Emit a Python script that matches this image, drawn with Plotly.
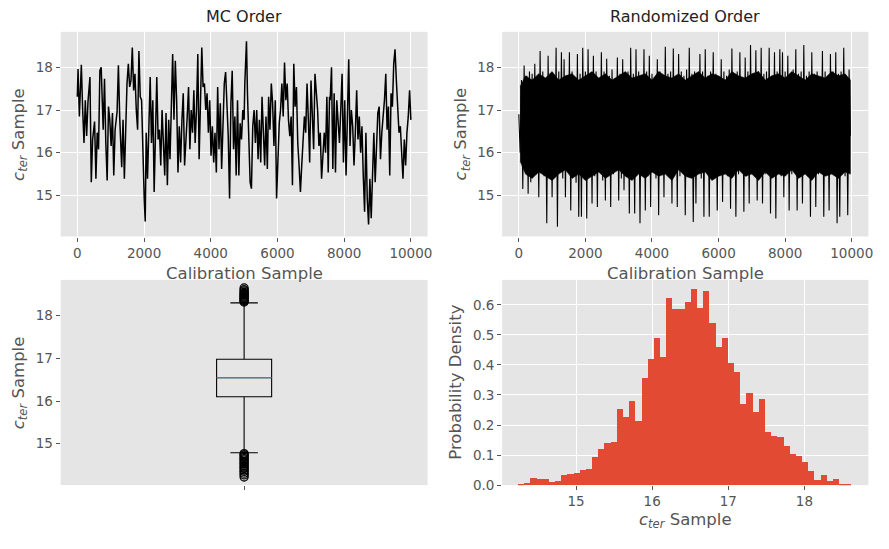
import numpy as np
import plotly.graph_objects as go

# ---------------- data ----------------
mc_sample = [0, 21, 61, 120, 160, 200, 239, 279, 319, 378, 418, 458, 517, 557, 596, 636, 676, 715, 775, 815,
             854, 894, 934, 973, 1013, 1053, 1092, 1132, 1192, 1231, 1271, 1330, 1370, 1410, 1450, 1489, 1529, 1569,
             1608, 1648, 1688, 1727, 1767, 1807, 1846, 1886, 1926, 1965, 2005, 2035, 2065, 2104, 2144, 2184, 2223,
             2263, 2303, 2342, 2382, 2422,
             2461, 2501, 2540, 2580, 2620, 2659, 2699, 2739, 2778, 2818, 2858, 2897, 2937, 2977, 3017, 3056, 3096,
             3136, 3175, 3215, 3255, 3294, 3334, 3374, 3413, 3453, 3493, 3532, 3572, 3612, 3651, 3691, 3731, 3770,
             3810, 3850, 3889, 3929, 3969, 4008, 4048, 4088, 4127, 4167, 4207, 4247, 4286, 4326, 4366, 4405, 4445,
             4485, 4524, 4564, 4604, 4643, 4683, 4723, 4762, 4802, 4842, 4881, 4921, 4961, 5000,
             5021, 5071, 5100, 5140, 5180, 5219, 5259, 5299, 5338, 5378, 5418, 5457, 5497, 5537, 5577, 5616, 5656,
             5696, 5735, 5775, 5815, 5854, 5894, 5934, 5973, 6013, 6053, 6092, 6132, 6172, 6211, 6251, 6291, 6330,
             6370, 6410, 6449, 6489, 6529, 6569, 6608, 6648, 6688, 6727, 6767, 6807, 6846, 6886, 6926, 6965, 7005,
             7045, 7084, 7124, 7164, 7203, 7243, 7283, 7322, 7362, 7402, 7441, 7481, 7521, 7560,
             7580, 7620, 7659, 7699, 7739, 7778, 7818, 7858, 7897, 7937, 7977, 8016, 8056, 8096, 8136, 8175, 8215,
             8255, 8294, 8334, 8374, 8413, 8453, 8493, 8532, 8572, 8612, 8651, 8691, 8731, 8770, 8810, 8850, 8889,
             8929, 8969, 9008, 9048, 9088, 9128, 9167, 9207, 9247, 9286, 9326, 9366, 9405, 9445, 9485, 9524, 9564,
             9604, 9643, 9683, 9723, 9762, 9802, 9842, 9881, 9921, 9961, 9999]
mc_value = [17.31, 17.96, 16.85, 18.06, 17.0, 16.23, 17.23, 16.39, 17.19, 17.77, 15.31, 16.31, 16.73, 15.39, 16.47,
            16.08, 17.92, 18.0, 16.54, 17.73, 16.23, 15.35, 17.08, 16.77, 16.16, 16.93, 15.47, 16.54, 16.96, 18.05,
            16.81, 15.66, 16.77, 15.39, 16.54, 17.62, 18.08, 17.54, 17.69, 18.46, 17.46, 17.85, 17.0, 16.54, 18.38,
            17.31, 17.23, 15.85, 14.93, 14.39, 16.47, 15.39, 16.85, 17.77, 16.23, 17.23, 15.08, 16.62, 17.77, 16.31,
            16.54, 15.7, 17.0, 16.23, 15.47, 16.93, 15.24, 16.77, 15.85, 17.08, 18.31, 16.77, 18.15, 17.23, 15.54,
            16.62, 15.77, 16.77, 17.39, 15.7, 16.47, 16.85, 17.54, 16.08, 17.0, 16.47, 17.46, 16.23, 17.0, 18.31,
            15.85, 17.08, 18.46, 17.54, 17.62, 17.0, 17.39, 16.47, 17.23, 15.93, 16.62, 15.77, 16.47, 15.54, 17.54,
            16.08, 17.16, 15.62, 16.85, 17.62, 17.89, 17.08, 16.39, 14.93, 17.16, 17.92, 16.08, 16.85, 15.47, 17.23,
            15.47, 16.69, 16.31, 17.0, 16.77,
            17.62, 18.61, 17.39, 16.39, 15.31, 15.16, 16.62, 17.0, 16.23, 17.0, 15.85, 16.77, 15.77, 17.31, 16.39,
            15.7, 16.85, 15.62, 17.31, 16.54, 17.62, 17.16, 16.16, 17.23, 14.93, 15.7, 16.69, 17.0, 17.62, 16.85,
            18.11, 17.23, 17.62, 16.77, 16.39, 16.85, 15.24, 18.08, 17.08, 17.54, 16.23, 15.7, 15.08, 15.7, 16.31,
            16.85, 16.47, 17.62, 16.77, 15.77, 17.69, 16.77, 16.08, 17.85, 17.46, 17.0, 16.16, 16.47, 15.39, 16.08,
            16.47, 16.0, 17.31, 15.54, 17.31,
            17.23, 18.0, 15.62, 17.39, 15.54, 17.23, 16.54, 16.23, 17.0, 17.85, 15.77, 17.23, 15.47, 17.0, 18.19,
            16.16, 17.0, 16.62, 15.7, 16.47, 17.46, 16.31, 16.85, 16.0, 16.62, 15.47, 14.62, 16.47, 14.93, 14.32,
            15.39, 14.47, 15.7, 16.47, 15.31, 16.08, 16.93, 17.08, 15.85, 16.47, 16.85, 17.23, 17.85, 16.54, 17.08,
            15.47, 17.39, 17.08, 18.08, 18.42, 17.69, 17.16, 16.47, 16.62, 15.93, 15.39, 16.31, 15.7, 16.47, 16.85,
            17.46, 16.77]

# randomized-order trace, thinned to one value every 40 samples
rand_stride = 40
rand_value = [16.9, 16.0, 17.7, 15.15, 18.04, 15.6, 17.8, 15.04, 17.9, 15.31,
              17.85, 15.7, 18.08, 15.5, 17.7, 14.96, 18.38, 15.6, 17.9, 15.45,
              17.75, 14.35, 18.27, 15.7, 17.85, 14.96, 17.8, 15.5, 18.46, 14.27,
              17.9, 15.6, 18.35, 15.4, 18.19, 14.96, 17.8, 15.55, 18.35, 14.65,
              17.9, 15.6, 17.7, 15.3, 18.31, 14.5, 17.85, 14.5, 18.46, 15.5,
              17.9, 14.46, 18.42, 15.6, 17.8, 14.81, 18.27, 15.45, 17.9, 14.73,
              17.75, 15.6, 18.35, 15.35, 17.9, 14.88, 18.2, 15.6, 17.8, 14.73,
              17.95, 15.5, 17.7, 15.6, 18.23, 14.88, 17.85, 15.4, 18.19, 15.12,
              17.8, 15.55, 17.9, 14.58, 18.46, 15.6, 17.85, 14.58, 18.42, 15.5,
              17.9, 14.35, 17.75, 15.6, 18.42, 14.65, 17.9, 15.45, 18.27, 14.73,
              17.85, 15.6, 17.7, 15.4, 18.19, 14.54, 17.9, 15.55, 17.8, 14.96,
              18.48, 15.6, 17.85, 15.5, 17.9, 14.81, 18.44, 15.6, 17.75, 14.73,
              18.31, 15.45, 17.9, 15.6, 17.8, 14.54, 17.95, 15.5, 18.46, 15.6,
              17.85, 14.38, 17.9, 14.81, 17.75, 15.6, 18.31, 15.4, 17.9, 14.5,
              18.42, 15.6, 17.8, 14.5, 17.9, 15.5, 18.35, 15.6, 17.85, 14.65,
              17.7, 15.55, 18.19, 14.85, 17.9, 15.6, 17.8, 15.45, 17.95, 14.69,
              18.44, 15.6, 17.85, 14.5, 17.9, 15.5, 18.35, 15.6, 17.75, 14.62,
              18.23, 15.45, 17.9, 14.81, 18.52, 15.6, 17.8, 15.5, 18.4, 14.88,
              17.9, 15.6, 18.46, 14.81, 17.85, 15.5, 17.9, 15.6, 18.46, 14.58,
              17.8, 15.55, 18.35, 14.46, 17.9, 15.6, 18.42, 15.45, 18.35, 14.96,
              17.9, 15.6, 18.27, 14.65, 17.8, 15.5, 17.95, 15.6, 18.42, 14.65,
              17.85, 15.55, 17.9, 14.81, 18.52, 15.6, 17.8, 15.45, 17.9, 14.5,
              18.35, 15.6, 17.85, 14.73, 17.9, 15.5, 17.75, 15.6, 18.38, 14.5,
              17.9, 15.55, 17.8, 14.65, 18.31, 15.6, 17.9, 15.5, 18.35, 14.35,
              17.85, 14.5, 17.9, 15.6, 18.46, 15.45, 17.8, 14.54, 17.95, 16.4]

# solid core of the randomized band (edges read every 200 samples)
rand_core_sample = [40] + list(range(200, 10000, 200)) + [9960]
rand_core_top = [17.55, 17.8, 17.7, 17.85, 17.75, 17.9, 17.7, 17.8, 17.85, 17.7, 17.8, 17.9, 17.75,
                 17.85, 17.7, 17.8, 17.9, 17.75, 17.8, 17.85, 17.7, 17.9, 17.8, 17.75, 17.85, 17.7,
                 17.8, 17.9, 17.75, 17.85, 17.8, 17.7, 17.9, 17.8, 17.75, 17.85, 17.9, 17.7, 17.8,
                 17.85, 17.75, 17.9, 17.8, 17.7, 17.85, 17.8, 17.75, 17.9, 17.8, 17.85, 17.7]
rand_core_bottom = [15.8, 15.5, 15.4, 15.55, 15.45, 15.35, 15.5, 15.6, 15.4, 15.5, 15.35, 15.45, 15.55,
                    15.4, 15.5, 15.6, 15.45, 15.35, 15.5, 15.4, 15.55, 15.45, 15.5, 15.35, 15.6, 15.45,
                    15.4, 15.5, 15.55, 15.35, 15.45, 15.5, 15.4, 15.6, 15.45, 15.5, 15.35, 15.55, 15.4,
                    15.5, 15.45, 15.6, 15.4, 15.5, 15.35, 15.55, 15.45, 15.5, 15.4, 15.55, 15.5]

# box plot summary
box_q1, box_median, box_q3 = 16.10, 16.55, 16.98
box_low_whisker, box_high_whisker = 14.79, 18.30
box_outliers_high = [18.32, 18.34, 18.36, 18.38, 18.40, 18.42, 18.44, 18.46, 18.48, 18.50, 18.52, 18.55, 18.58,
                     18.61, 18.65]
box_outliers_low = [14.77, 14.74, 14.71, 14.68, 14.65, 14.62, 14.58, 14.55, 14.52, 14.48, 14.45, 14.42, 14.38,
                    14.35, 14.31, 14.27, 14.22]

# histogram (density per bin)
hist_lo, hist_hi = 14.24, 18.62
hist_density = [0.002, 0.008, 0.024, 0.021, 0.021, 0.011, 0.014, 0.034, 0.037, 0.040,
                0.050, 0.054, 0.093, 0.122, 0.139, 0.145, 0.254, 0.227, 0.280, 0.214,
                0.358, 0.421, 0.490, 0.427, 0.624, 0.588, 0.585, 0.611, 0.654, 0.591,
                0.647, 0.539, 0.460, 0.490, 0.408, 0.378, 0.270, 0.306, 0.244, 0.287,
                0.178, 0.165, 0.162, 0.132, 0.103, 0.096, 0.077, 0.047, 0.017, 0.034,
                0.014, 0.021, 0.004, 0.001]

trace_ticks = [0, 2000, 4000, 6000, 8000, 10000]
trace_ticktext = ["0", "2000", "4000", "6000", "8000", "10000"]
value_ticks = [15, 16, 17, 18]
density_ticks = [0.0, 0.1, 0.2, 0.3, 0.4, 0.5, 0.6]

# ---------------- figure ----------------
W, H = 889, 549
FONT = "DejaVu Sans"
GREY = "#555555"
BG = "#E5E5E5"


def px_x(p):
    return p / W


def px_y(p):
    return 1 - p / H


fig = go.Figure()

fig.add_trace(go.Scatter(x=mc_sample, y=mc_value, mode="lines",
                         line=dict(color="black", width=1.5), xaxis="x", yaxis="y", showlegend=False))

# randomized: solid core band + spiky trace
fig.add_trace(go.Scatter(x=rand_core_sample + rand_core_sample[::-1],
                         y=rand_core_top + rand_core_bottom[::-1],
                         mode="lines", fill="toself", fillcolor="black",
                         line=dict(color="black", width=0.5), xaxis="x2", yaxis="y2", showlegend=False))
rand_x = np.arange(len(rand_value)) * rand_stride
fig.add_trace(go.Scatter(x=rand_x, y=rand_value, mode="lines",
                         line=dict(color="black", width=1.1), xaxis="x2", yaxis="y2", showlegend=False))

fig.add_trace(go.Box(x=[1], q1=[box_q1], median=[box_median], q3=[box_q3],
                     lowerfence=[box_low_whisker], upperfence=[box_high_whisker],
                     width=0.15, whiskerwidth=0.5, boxpoints=False,
                     line=dict(color="black", width=1.1), fillcolor="rgba(0,0,0,0)",
                     xaxis="x3", yaxis="y3", showlegend=False))
fig.add_trace(go.Scatter(x=[1 - 0.075, 1 + 0.075], y=[box_median, box_median], mode="lines",
                         line=dict(color="#348ABD", width=1.1), xaxis="x3", yaxis="y3", showlegend=False))
outl = box_outliers_high + box_outliers_low
fig.add_trace(go.Scatter(x=[1] * len(outl), y=outl, mode="markers",
                         marker=dict(symbol="circle-open", size=8, color="black", line=dict(width=1.3)),
                         xaxis="x3", yaxis="y3", showlegend=False))

nb = len(hist_density)
bw = (hist_hi - hist_lo) / nb
centers = hist_lo + bw * (np.arange(nb) + 0.5)
fig.add_trace(go.Bar(x=centers, y=hist_density, width=bw, marker=dict(color="#E24A33", line=dict(width=0)),
                     xaxis="x4", yaxis="y4", showlegend=False))

common = dict(showgrid=True, gridcolor="white", gridwidth=1, zeroline=False, showline=False,
              ticks="outside", ticklen=4, tickcolor=GREY, tickwidth=1,
              tickfont=dict(family=FONT, size=13.5, color=GREY))

dx_left = [px_x(61), px_x(430)]
dx_right = [px_x(505), px_x(873.3)]
dy_top = [px_y(240), px_y(32.3)]
dy_bot = [px_y(492.3), px_y(284)]

fig.update_layout(
    width=W, height=H,
    margin=dict(l=0, r=0, t=0, b=0),
    paper_bgcolor="white", plot_bgcolor=BG,
    bargap=0,
    font=dict(family=FONT, color=GREY),
    xaxis=dict(domain=dx_left, range=[-500, 10500], tickvals=trace_ticks, ticktext=trace_ticktext,
               anchor="y", **common),
    yaxis=dict(domain=dy_top, range=[14.04, 18.83], tickvals=value_ticks, anchor="x", **common),
    xaxis2=dict(domain=dx_right, range=[-500, 10500], tickvals=trace_ticks, ticktext=trace_ticktext,
                anchor="y2", **common),
    yaxis2=dict(domain=dy_top, range=[14.04, 18.83], tickvals=value_ticks, anchor="x2", **common),
    xaxis3=dict(domain=dx_left, range=[0.5, 1.5], tickvals=[1], ticktext=[""], anchor="y3",
                **{**common, "showgrid": False}),
    yaxis3=dict(domain=dy_bot, range=[14.03, 18.84], tickvals=value_ticks, anchor="x3",
                **{**common, "showgrid": False}),
    xaxis4=dict(domain=dx_right, range=[14.03, 18.84], tickvals=value_ticks, anchor="y4", **common),
    yaxis4=dict(domain=dy_bot, range=[0, 0.683], tickvals=density_ticks, tickformat=".1f", anchor="x4", **common),
)

cter = "<i>c</i><sub><i>ter</i></sub> Sample"
ann = []


def add_text(text, x, y, size, color=GREY, angle=0):
    ann.append(dict(text=text, x=px_x(x), y=px_y(y), xref="paper", yref="paper",
                    xanchor="center", yanchor="middle", showarrow=False, textangle=angle,
                    font=dict(family=FONT, size=size, color=color)))


add_text("MC Order", 245.5, 17, 16, color="#222222")
add_text("Randomized Order", 689, 17, 16, color="#222222")
add_text("Calibration Sample", 245.5, 278, 16.5)
add_text("Calibration Sample", 689, 278, 16.5)
add_text(cter, 689, 528, 16.5)
add_text(cter, 19, 136, 16.5, angle=-90)
add_text(cter, 464, 136, 16.5, angle=-90)
add_text(cter, 19, 388, 16.5, angle=-90)
add_text("Probability Density", 458, 388, 16.5, angle=-90)
fig.update_layout(annotations=ann)

fig.write_html("out.html")
